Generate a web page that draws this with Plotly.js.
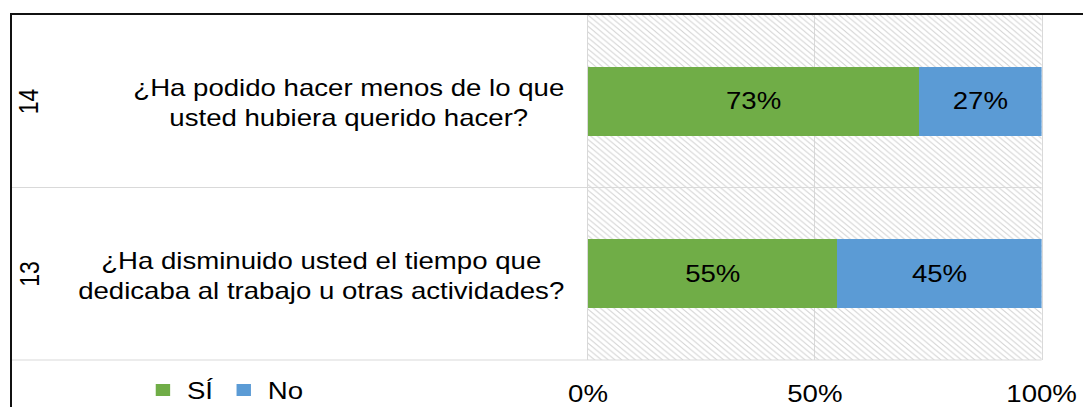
<!DOCTYPE html>
<html>
<head>
<meta charset="utf-8">
<script src="https://cdn.plot.ly/plotly-3.0.1.min.js"></script>
<style>
  html, body { margin: 0; padding: 0; overflow: hidden; background: #fff; }
  #wrap { position: absolute; left: 0; top: 0; width: 903px; height: 407px; transform: scaleX(1.2); transform-origin: 0 0; }
  #chart { width: 903px; height: 407px; }
  #frame { position: absolute; left: 10px; top: 13px; width: 2000px; height: 1000px; border-top: 2px solid #111; border-left: 2px solid #111; pointer-events: none; }
</style>
</head>
<body>
<div id="wrap"><div id="chart"></div></div>
<div id="frame"></div>
<script>
// Data
const ids = ['13', '14'];
const questions = [
  '¿Ha disminuido usted el tiempo que<br>dedicaba al trabajo u otras actividades?',
  '¿Ha podido hacer menos de lo que<br>usted hubiera querido hacer?'
];
const seriesNames = ['SÍ', 'No'];
const siValues = [0.55, 0.73];
const noValues = [0.45, 0.27];
const fullScale = [1, 1];
const tickVals = [0, 0.5, 1];
const tickText = ['0%', '50%', '100%'];

const FONT = 'Liberation Sans, Arial, sans-serif';
const GREEN = '#70ad47';
const BLUE = '#5b9bd5';
const GRID = '#d9d9d9';

const traces = [
  {
    type: 'bar', orientation: 'h', y: ids, x: fullScale, width: 1,
    xaxis: 'x', yaxis: 'y', showlegend: false, hoverinfo: 'skip',
    marker: { color: 'rgba(0,0,0,0)', line: { width: 0 },
      pattern: { shape: '\\', fgcolor: '#d2d2d2', bgcolor: 'rgba(0,0,0,0)', size: 4, solidity: 0.22 } }
  },
  {
    type: 'bar', orientation: 'h', name: seriesNames[0], y: ids, x: siValues, width: 0.4,
    xaxis: 'x2', yaxis: 'y',
    marker: { color: GREEN, line: { width: 0 } },
    texttemplate: '%{x:.0%}', textposition: 'inside', insidetextanchor: 'middle',
    constraintext: 'none', textfont: { family: FONT, size: 23, color: '#000' }
  },
  {
    type: 'bar', orientation: 'h', name: seriesNames[1], y: ids, x: noValues, width: 0.4,
    xaxis: 'x2', yaxis: 'y',
    marker: { color: BLUE, line: { width: 0 } },
    texttemplate: '%{x:.0%}', textposition: 'inside', insidetextanchor: 'middle',
    constraintext: 'none', textfont: { family: FONT, size: 23, color: '#000' }
  }
];

const annotations = [];
ids.forEach((id, i) => {
  annotations.push({
    xref: 'paper', yref: 'y', x: 0, y: i, xanchor: 'right', yanchor: 'middle',
    xshift: -18, yshift: -2, text: questions[i], showarrow: false, align: 'center',
    font: { family: FONT, size: 23, color: '#000' }
  });
  annotations.push({
    xref: 'paper', yref: 'y', x: -1.233, y: i, xanchor: 'center', yanchor: 'middle',
    text: id, showarrow: false, textangle: -90,
    font: { family: FONT, size: 23, color: '#000' }
  });
});

const layout = {
  width: 903, height: 407,
  margin: { l: 490, r: 35, t: 15, b: 47, autoexpand: false },
  paper_bgcolor: 'rgba(0,0,0,0)', plot_bgcolor: 'rgba(0,0,0,0)',
  barmode: 'stack', bargap: 0,
  font: { family: FONT, size: 23, color: '#000' },
  xaxis: {
    range: [0, 1], tickvals: tickVals, ticktext: tickText,
    showgrid: true, gridcolor: GRID, gridwidth: 1, zeroline: false,
    showline: false, ticks: '', ticklabelstandoff: 18,
    tickfont: { family: FONT, size: 23, color: '#000' }, fixedrange: true
  },
  xaxis2: { range: [0, 1], overlaying: 'x', visible: false, fixedrange: true },
  yaxis: {
    type: 'category', range: [-0.5, 1.5], showticklabels: false, ticks: '',
    showgrid: false, zeroline: false, showline: true, mirror: true,
    linecolor: GRID, linewidth: 1, fixedrange: true
  },
  legend: {
    orientation: 'h', x: -0.99, xanchor: 'left', y: -0.087, yanchor: 'middle',
    font: { family: FONT, size: 23, color: '#000' },
    bgcolor: 'rgba(0,0,0,0)', traceorder: 'normal'
  },
  shapes: [
    { type: 'line', xref: 'paper', yref: 'paper', x0: -1.272, x1: 1, y0: 0.5, y1: 0.5, line: { color: GRID, width: 1 } },
    { type: 'line', xref: 'paper', yref: 'paper', x0: -1.272, x1: 1, y0: 0, y1: 0, line: { color: GRID, width: 1 } }
  ],
  annotations: annotations,
  showlegend: true
};

Plotly.newPlot('chart', traces, layout, { displayModeBar: false, staticPlot: true });
</script>
</body>
</html>
